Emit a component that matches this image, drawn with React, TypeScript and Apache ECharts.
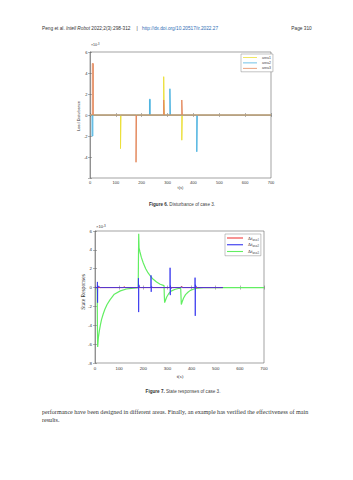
import React, { useEffect, useRef } from 'react';
import * as echarts from 'echarts';

// ---------- Figure 6: load disturbance pulses ----------
const tMax = 700;
const area1Start = [118, 285, 355];
const area1End = [120, 287, 357];
const area1Amp = [-3.2, 3.65, -2.4];

const area2Start = [8, 230, 309, 413];
const area2End = [11, 233, 311, 415];
const area2Amp = [-2.0, 1.5, 2.5, -3.5];

const area3Start = [9, 178, 285, 355];
const area3End = [13, 180, 287, 357];
const area3Amp = [4.9, -4.5, 1.43, 1.43];

const fig6Names = ['area1', 'area2', 'area3'];

// ---------- Figure 7: state responses ----------
const df3T = [0, 9, 10, 11, 12, 14, 18, 22, 27, 34, 41, 50, 62, 80, 105, 130, 160, 179, 180, 181, 182.5, 186, 192, 200, 210, 220, 230, 240, 255, 270, 286, 287, 288.5, 292, 297, 305, 315, 330, 345, 355, 356, 357.5, 361, 367, 375, 385, 395, 410, 425, 450, 700];
const df3V = [0, 0, -4.0, -6.3, -6.0, -5.3, -4.6, -4.0, -3.4, -2.8, -2.3, -1.8, -1.3, -0.7, -0.35, -0.15, -0.05, 0, 3.0, 5.7, 4.2, 3.8, 3.2, 2.6, 2.0, 1.55, 1.2, 0.9, 0.6, 0.35, 0.2, -0.8, -1.6, -1.35, -1.0, -0.65, -0.38, -0.2, -0.1, -0.07, -0.8, -1.8, -1.5, -1.1, -0.75, -0.5, -0.3, -0.15, -0.06, -0.01, 0];

const df2T = [0, 9.5, 10, 10.7, 11.5, 12.5, 16, 22, 179.5, 180, 180.8, 181.6, 183, 188, 231.5, 232, 232.8, 233.6, 235, 240, 310.5, 311, 311.8, 312.6, 314, 320, 356, 358, 362, 414, 414.5, 415.3, 416.1, 417.5, 424, 530];
const df2V = [0, 0, 0.6, -1.6, 0.2, 0.1, 0.12, 0, 0, 1.0, -2.6, 0.3, 0.15, 0, 0, 1.3, -0.45, 0.1, 0.05, 0, 0, 2.1, -0.8, 0.2, -0.1, 0, 0, 0.08, 0, 0, 1.05, -3.0, 0.3, 0.15, 0, 0];

const df1T = [0, 118, 120, 125, 353, 357, 365, 530];
const df1V = [0, 0, 0.1, 0, 0, 0.12, 0, 0];

const fig7Names = ['Δf_area1', 'Δf_area2', 'Δf_area3'];

function pulses(s: number[], e: number[], a: number[]) {
  const d: number[][] = [[0, 0]];
  for (let i = 0; i < s.length; i++) {
    d.push([s[i], 0], [s[i], a[i]], [e[i], a[i]], [e[i], 0]);
  }
  d.push([tMax, 0]);
  return d;
}
function zip(t: number[], v: number[]) {
  return t.map((x, i) => [x, v[i]]);
}

const axisCol = '#666';
const sans = 'Liberation Sans, Arial, sans-serif';
const serif = 'Liberation Serif, Times New Roman, serif';

function xAx(grid: number, fs: number, margin: number, top = false): any {
  return {
    gridIndex: grid, type: 'value', min: 0, max: tMax, interval: 100,
    position: top ? 'top' : 'bottom',
    axisLine: { show: !top, lineStyle: { color: axisCol, width: 0.6 } },
    axisTick: { inside: true, length: 2, lineStyle: { color: axisCol, width: 0.5 } },
    axisLabel: { show: !top, fontSize: fs, margin, color: '#333', fontFamily: sans },
    splitLine: { show: false },
  };
}
function yAx(grid: number, min: number, max: number, fs: number, margin: number, right = false, hide?: number): any {
  return {
    gridIndex: grid, type: 'value', min, max, interval: 2,
    position: right ? 'right' : 'left',
    axisLine: { show: !right, lineStyle: { color: axisCol, width: 0.6 } },
    axisTick: { inside: true, length: 2, lineStyle: { color: axisCol, width: 0.5 } },
    axisLabel: {
      show: !right, fontSize: fs, margin, color: '#333', fontFamily: sans,
      formatter: (v: number) => (v === hide ? '' : String(v)),
    },
    splitLine: { show: false },
  };
}

export default function App() {
  const ref = useRef<HTMLDivElement>(null);
  useEffect(() => {
    if (!ref.current) return;
    const chart = echarts.init(ref.current, undefined, { renderer: 'svg' });
    const fig6Colors = ['#ECE03C', '#4DB3E0', '#E48A5E'];
    const fig7Colors = ['#F03C3C', '#3535EE', '#62EE62'];
    const hf = 4.75;
    const cf = 4.6;
    const option: any = {
      animation: false,
      backgroundColor: '#fff',
      grid: [
        { left: 90, top: 52, width: 181, height: 126, show: true, borderColor: axisCol, borderWidth: 0.6, backgroundColor: 'transparent' },
        { left: 95, top: 231, width: 169, height: 132, show: true, borderColor: axisCol, borderWidth: 0.6, backgroundColor: 'transparent' },
      ],
      xAxis: [xAx(0, 4, 2), xAx(0, 4, 2, true), xAx(1, 4.4, 3.5), xAx(1, 4.4, 3.5, true)],
      yAxis: [
        yAx(0, -6, 6, 4, 2.5, false, -6), yAx(0, -6, 6, 4, 2.5, true),
        yAx(1, -8, 6, 4.4, 3, false), yAx(1, -8, 6, 4.4, 3, true),
      ],
      legend: [
        {
          data: fig6Names, orient: 'vertical', left: 241, top: 54, icon: 'rect',
          itemWidth: 14, itemHeight: 0.8, itemGap: 1.4, padding: [1.5, 2, 1.5, 2],
          borderColor: '#888', borderWidth: 0.5, backgroundColor: '#fff',
          textStyle: { fontSize: 3.5, color: '#444', fontFamily: sans, lineHeight: 4 },
        },
        {
          data: fig7Names, orient: 'vertical', left: 225, top: 234, icon: 'rect',
          itemWidth: 16, itemHeight: 1.1, itemGap: 1.5, padding: [1.5, 2, 1.5, 2],
          borderColor: '#888', borderWidth: 0.5, backgroundColor: '#fff',
          formatter: (n: string) => 'Δf{s|' + n.split('_')[1] + '}',
          textStyle: {
            fontSize: 4.5, color: '#333', fontFamily: serif,
            rich: { s: { fontSize: 3, fontFamily: serif, color: '#333', padding: [2.5, 0, 0, 0] } },
          },
        },
      ],
      series: [
        { name: 'area1', type: 'line', xAxisIndex: 0, yAxisIndex: 0, symbol: 'none', data: pulses(area1Start, area1End, area1Amp), lineStyle: { width: 1, color: fig6Colors[0] }, itemStyle: { color: fig6Colors[0] } },
        { name: 'area2', type: 'line', xAxisIndex: 0, yAxisIndex: 0, symbol: 'none', data: pulses(area2Start, area2End, area2Amp), lineStyle: { width: 1, color: fig6Colors[1] }, itemStyle: { color: fig6Colors[1] } },
        { name: 'area3', type: 'line', xAxisIndex: 0, yAxisIndex: 0, symbol: 'none', data: pulses(area3Start, area3End, area3Amp), lineStyle: { width: 1, color: fig6Colors[2] }, itemStyle: { color: fig6Colors[2] } },
        { name: 'Δf_area3', type: 'line', xAxisIndex: 2, yAxisIndex: 2, symbol: 'none', data: zip(df3T, df3V), lineStyle: { width: 1.2, color: fig7Colors[2] }, itemStyle: { color: fig7Colors[2] } },
        { name: 'Δf_area1', type: 'line', xAxisIndex: 2, yAxisIndex: 2, symbol: 'none', data: zip(df1T, df1V), lineStyle: { width: 1, color: fig7Colors[0] }, itemStyle: { color: fig7Colors[0] } },
        { name: 'Δf_area2', type: 'line', xAxisIndex: 2, yAxisIndex: 2, symbol: 'none', data: zip(df2T, df2V), lineStyle: { width: 1, color: fig7Colors[1], opacity: 0.85 }, itemStyle: { color: fig7Colors[1] } },
      ],
      graphic: [
        { type: 'text', x: 42, y: 28.5, style: { text: 'Peng et al. {i|Intell Robot} 2022;2(3):298-312', rich: { i: { fontStyle: 'italic', fontSize: hf, fontFamily: sans, fill: '#333' } }, fontSize: hf, fontFamily: sans, fill: '#333', verticalAlign: 'middle' } },
        { type: 'text', x: 137, y: 28.5, style: { text: '|', fontSize: hf, fontFamily: sans, fill: '#333', align: 'center', verticalAlign: 'middle' } },
        { type: 'text', x: 142, y: 28.5, style: { text: 'http://dx.doi.org/10.20517/ir.2022.27', fontSize: hf, fontFamily: sans, fill: '#2f6db5', verticalAlign: 'middle' } },
        { type: 'text', x: 311.7, y: 28.5, style: { text: 'Page 310', fontSize: hf, fontFamily: sans, fill: '#333', align: 'right', verticalAlign: 'middle' } },

        { type: 'text', x: 91, y: 45, style: { text: '×10{p|-3}', rich: { p: { fontSize: 2.6, fontFamily: sans, fill: '#333', padding: [0, 0, 2, 0] } }, fontSize: 3.6, fontFamily: sans, fill: '#333', verticalAlign: 'middle' } },
        { type: 'text', x: 79, y: 116, rotation: Math.PI / 2, style: { text: 'Load Disturbance', fontSize: 3.8, fontFamily: sans, fill: '#333', align: 'center', verticalAlign: 'middle' } },
        { type: 'text', x: 180.5, y: 187, style: { text: 't(s)', fontSize: 4, fontFamily: sans, fill: '#333', align: 'center', verticalAlign: 'middle' } },
        { type: 'text', x: 182, y: 204, style: { text: '{b|Figure 6.} Disturbance of case 3.', rich: { b: { fontWeight: 'bold', fontSize: cf, fontFamily: sans, fill: '#333' } }, fontSize: cf, fontFamily: sans, fill: '#444', align: 'center', verticalAlign: 'middle' } },

        { type: 'text', x: 96, y: 226.5, style: { text: '×10{p|-3}', rich: { p: { fontSize: 3, fontFamily: sans, fill: '#333', padding: [0, 0, 2.5, 0] } }, fontSize: 4.2, fontFamily: sans, fill: '#333', verticalAlign: 'middle' } },
        { type: 'text', x: 83, y: 292, rotation: Math.PI / 2, style: { text: 'State Responses', fontSize: 5.5, fontFamily: serif, fill: '#333', align: 'center', verticalAlign: 'middle' } },
        { type: 'text', x: 180, y: 376.5, style: { text: 't(s)', fontSize: 5, fontFamily: serif, fill: '#333', align: 'center', verticalAlign: 'middle' } },
        { type: 'text', x: 183, y: 391.7, style: { text: '{b|Figure 7.} State responses of case 3.', rich: { b: { fontWeight: 'bold', fontSize: cf, fontFamily: sans, fill: '#333' } }, fontSize: cf, fontFamily: sans, fill: '#444', align: 'center', verticalAlign: 'middle' } },

        { type: 'text', x: 42, y: 412.3, style: { text: 'performance have been designed in different areas. Finally, an example has verified the effectiveness of main', fontSize: 6.1, fontFamily: serif, fill: '#333', verticalAlign: 'middle' } },
        { type: 'text', x: 42, y: 420, style: { text: 'results.', fontSize: 6.1, fontFamily: serif, fill: '#333', verticalAlign: 'middle' } },
      ],
    };
    chart.setOption(option);
    return () => chart.dispose();
  }, []);
  return <div ref={ref} style={{ position: 'absolute', left: 0, top: 0, width: 353, height: 480 }} />;
}
